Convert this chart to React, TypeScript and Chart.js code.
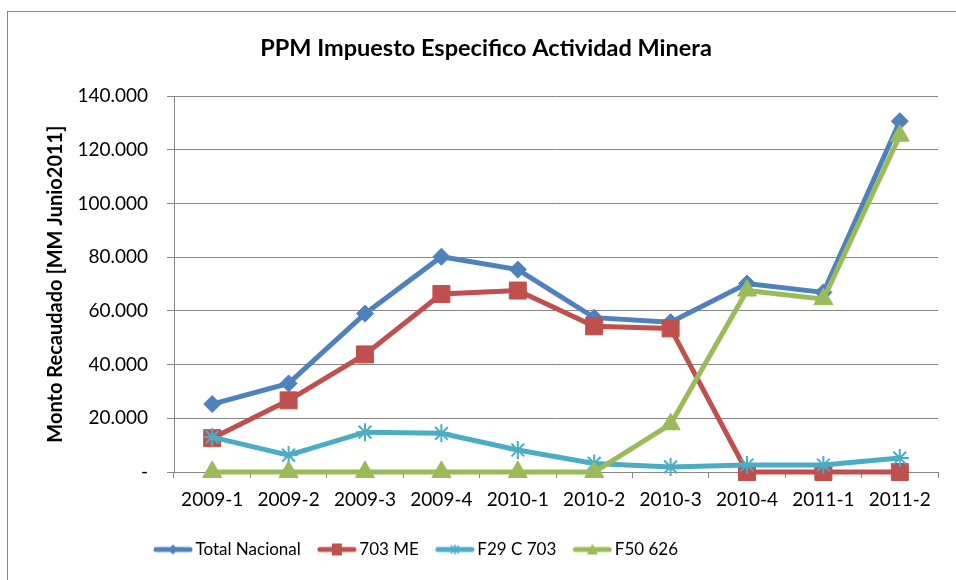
import React, { useEffect, useRef } from 'react';
import { Chart, registerables } from 'chart.js';
Chart.register(...registerables);

const categories = ['2009-1', '2009-2', '2009-3', '2009-4', '2010-1', '2010-2', '2010-3', '2010-4', '2011-1', '2011-2'];
const totalNacional = [25300, 33000, 59000, 80200, 75400, 57500, 55800, 70200, 66900, 130700];
const me703 = [12600, 26700, 43800, 66300, 67600, 54300, 53500, 0, 0, 0];
const f29c703 = [13000, 6300, 14850, 14400, 8200, 3200, 1900, 2600, 2600, 5200];
const f50626 = [0, 0, 0, 0, 0, 0, 17800, 67600, 64400, 125300];
const seriesNames = ['Total Nacional', '703 ME', 'F29 C 703', 'F50 626'];
const seriesColors = ['#4F81BD', '#C0504D', '#4BACC6', '#9BBB59'];
const seriesMarkers = ['rectRot', 'rect', 'star', 'triangle'];
const markerRadius = [8.5, 12, 9, 11];
const yMax = 140000;
const yStep = 20000;

const FONT = 'Lato, "Open Sans", sans-serif';

function formatTick(v: number): string {
  if (v === 0) return '-';
  return Math.round(v).toString().replace(/\B(?=(\d{3})+(?!\d))/g, '.');
}

function makeLegendIcon(color: string, marker: string): HTMLCanvasElement {
  const c = document.createElement('canvas');
  c.width = 40;
  c.height = 16;
  const ctx = c.getContext('2d')!;
  ctx.strokeStyle = color;
  ctx.fillStyle = color;
  ctx.lineWidth = 5;
  ctx.lineCap = 'round';
  ctx.beginPath();
  ctx.moveTo(3, 8);
  ctx.lineTo(37, 8);
  ctx.stroke();
  ctx.lineWidth = 1.5;
  ctx.lineCap = 'butt';
  const cx = 20, cy = 8;
  ctx.beginPath();
  if (marker === 'rectRot') {
    ctx.moveTo(cx, cy - 5); ctx.lineTo(cx + 5, cy); ctx.lineTo(cx, cy + 5); ctx.lineTo(cx - 5, cy); ctx.closePath(); ctx.fill();
  } else if (marker === 'rect') {
    ctx.rect(cx - 5, cy - 6, 10, 12); ctx.fill();
  } else if (marker === 'triangle') {
    ctx.moveTo(cx, cy - 6); ctx.lineTo(cx + 5.5, cy + 5); ctx.lineTo(cx - 5.5, cy + 5); ctx.closePath(); ctx.fill();
  } else {
    ctx.moveTo(cx - 4, cy - 4); ctx.lineTo(cx + 4, cy + 4);
    ctx.moveTo(cx + 4, cy - 4); ctx.lineTo(cx - 4, cy + 4);
    ctx.moveTo(cx, cy - 5); ctx.lineTo(cx, cy + 5);
    ctx.stroke();
  }
  return c;
}

const LEGEND_START = 159;
const LEGEND_PAD = 22;
const TITLE_SHIFT = 17;

const framePlugin = {
  id: 'frame',
  afterLayout(chart: any) {
    const lg = chart.legend;
    if (lg) {
      const w = lg.right - lg.left;
      lg.left = LEGEND_START - LEGEND_PAD;
      lg.right = lg.left + w;
    }
    const tb = chart.titleBlock;
    if (tb) {
      tb.left += TITLE_SHIFT;
      tb.right += TITLE_SHIFT;
    }
  },
  beforeDraw(chart: any) {
    const ctx = chart.ctx;
    ctx.save();
    ctx.fillStyle = '#ffffff';
    ctx.fillRect(0, 0, chart.width, chart.height);
    ctx.strokeStyle = '#868686';
    ctx.lineWidth = 1;
    ctx.strokeRect(7.5, 11.5, 3000, 3000);
    ctx.restore();
  },
};

export default function App() {
  const ref = useRef<HTMLCanvasElement>(null);
  useEffect(() => {
    const seriesData = [totalNacional, me703, f29c703, f50626];
    const icons = seriesColors.map((c, i) => makeLegendIcon(c, seriesMarkers[i]));
    const chart = new Chart(ref.current!, {
      type: 'line',
      data: {
        labels: categories,
        datasets: seriesNames.map((name, i) => ({
          label: name,
          data: seriesData[i],
          borderColor: seriesColors[i],
          backgroundColor: seriesColors[i],
          borderWidth: 5,
          pointStyle: seriesMarkers[i] as any,
          pointRadius: markerRadius[i],
          pointBackgroundColor: seriesColors[i],
          pointBorderColor: seriesColors[i],
          pointBorderWidth: i === 2 ? 2 : 1,
          tension: 0,
          clip: false as any,
          order: 4 - i,
        })),
      },
      options: {
        animation: false,
        responsive: false,
        maintainAspectRatio: false,
        layout: { padding: { left: 0, right: 18, top: 0, bottom: 12 } },
        plugins: {
          title: {
            display: true,
            text: 'PPM Impuesto Especifico Actividad Minera',
            color: '#000000',
            font: { family: FONT, size: 23.5, weight: 'bold' },
            padding: { top: 34, bottom: 34 },
          },
          legend: {
            position: 'bottom',
            align: 'start',
            labels: {
              color: '#000000',
              font: { family: FONT, size: 17 },
              usePointStyle: true,
              pointStyleWidth: 28,
              boxHeight: 16,
              padding: LEGEND_PAD,
              generateLabels: () =>
                seriesNames.map((name, i) => ({
                  text: name,
                  fillStyle: seriesColors[i],
                  strokeStyle: seriesColors[i],
                  lineWidth: 0,
                  pointStyle: icons[i],
                  datasetIndex: i,
                  hidden: false,
                  fontColor: '#000000',
                })),
            },
          },
          tooltip: { enabled: false },
        },
        scales: {
          x: {
            offset: true,
            grid: { display: true, offset: true, drawOnChartArea: false, drawTicks: true, tickLength: 6, color: '#868686' },
            border: { display: true, color: '#868686', width: 1 },
            ticks: { color: '#000000', font: { family: FONT, size: 19 }, padding: 10, maxRotation: 0, autoSkip: false },
            afterFit: (s: any) => { s.height = 47; },
          },
          y: {
            min: 0,
            max: yMax,
            grid: { color: '#868686', lineWidth: 1, tickLength: 7, drawTicks: true },
            border: { display: true, color: '#868686', width: 1 },
            ticks: {
              stepSize: yStep,
              color: '#000000',
              font: { family: FONT, size: 19 },
              padding: 19,
              callback: (v: any) => formatTick(Number(v)),
            },
            title: {
              display: true,
              text: 'Monto Recaudado [MM Junio2011]',
              color: '#000000',
              font: { family: FONT, size: 20, weight: 'bold' },
              padding: { top: 43.5, bottom: 0 },
            },
            afterFit: (s: any) => { s.width = 174; },
          },
        },
      },
      plugins: [framePlugin],
    });
    return () => chart.destroy();
  }, []);
  return (
    <>
      <style>{'body{margin:0;}'}</style>
      <canvas ref={ref} width={956} height={580} style={{ display: 'block' }} />
    </>
  );
}
